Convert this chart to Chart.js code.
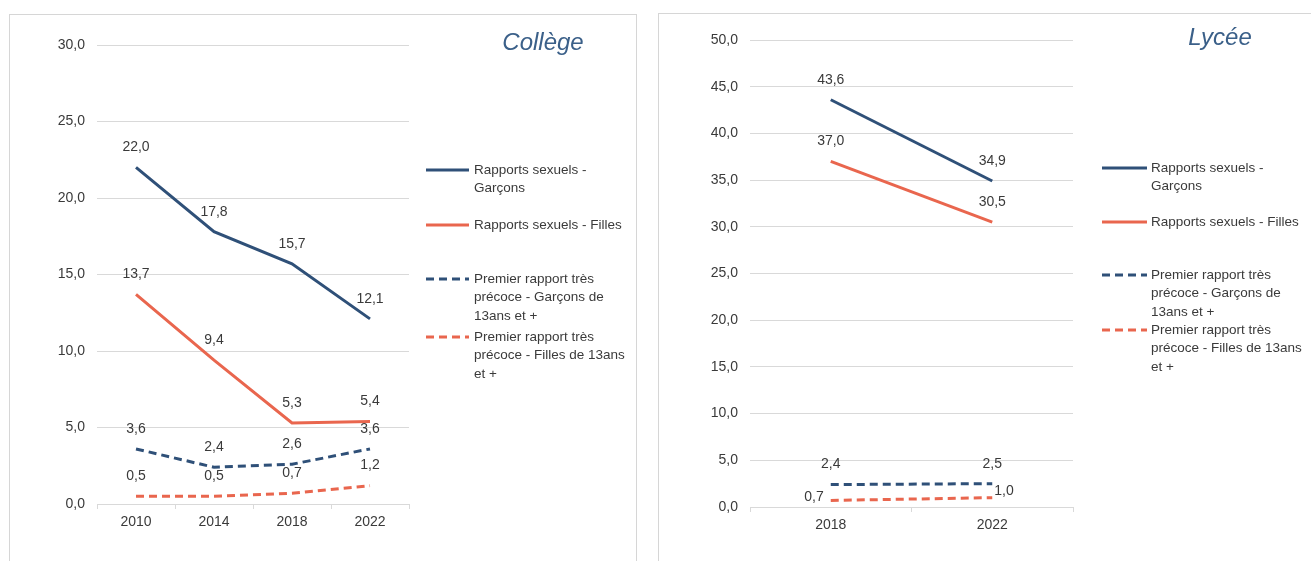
<!DOCTYPE html>
<html lang="fr">
<head>
<meta charset="utf-8">
<script src="https://cdn.jsdelivr.net/npm/chart.js@4.4.1/dist/chart.umd.min.js"></script>
<style>
    body { margin: 0; background: #ffffff; width: 1311px; height: 561px; overflow: hidden; position: relative; }
    .panneau { position: absolute; border: 1px solid #d6d6d6; background: #ffffff; }
    #panneau-college { left: 9px; top: 14px; width: 626px; height: 560px; }
    #panneau-lycee { left: 658px; top: 13px; width: 660px; height: 560px; }
    canvas { display: block; }
</style>
</head>
<body>
<div class="panneau" id="panneau-college"><canvas data-js="graphique-college" width="626" height="546"></canvas></div>
<div class="panneau" id="panneau-lycee"><canvas data-js="graphique-lycee" width="652" height="547"></canvas></div>
<script>
// Données
const anneesCollege = ['2010', '2014', '2018', '2022'];
const collegeGarcons = [22.0, 17.8, 15.7, 12.1];
const collegeFilles = [13.7, 9.4, 5.3, 5.4];
const collegePrecoceGarcons = [3.6, 2.4, 2.6, 3.6];
const collegePrecoceFilles = [0.5, 0.5, 0.7, 1.2];

const anneesLycee = ['2018', '2022'];
const lyceeGarcons = [43.6, 34.9];
const lyceeFilles = [37.0, 30.5];
const lyceePrecoceGarcons = [2.4, 2.5];
const lyceePrecoceFilles = [0.7, 1.0];

const ticksCollege = [0, 5, 10, 15, 20, 25, 30];
const ticksLycee = [0, 5, 10, 15, 20, 25, 30, 35, 40, 45, 50];

const legendes = [
    ['Rapports sexuels -', 'Garçons'],
    ['Rapports sexuels - Filles'],
    ['Premier rapport très', 'précoce - Garçons de', '13ans et +'],
    ['Premier rapport très', 'précoce - Filles de 13ans', 'et +'],
];

const BLEU = '#2f5078';
const ORANGE = '#e9664e';
const GRILLE = '#d9d9d9';
const TEXTE = '#3a3a3a';
const POLICE = "'Liberation Sans', Arial, sans-serif";

function virgule(valeur) {
    return valeur.toFixed(1).replace('.', ',');
}

// étiquettes de valeurs au-dessus des points
const pluginEtiquettes = {
    id: 'etiquettes',
    afterDatasetsDraw(chart) {
        const ctx = chart.ctx;
        ctx.save();
        ctx.font = `14px ${POLICE}`;
        ctx.fillStyle = TEXTE;
        chart.data.datasets.forEach((dataset, i) => {
            const meta = chart.getDatasetMeta(i);
            meta.data.forEach((point, j) => {
                const pos = dataset.positionsEtiquettes ? dataset.positionsEtiquettes[j] : 'haut';
                const texte = virgule(dataset.data[j]);
                ctx.textBaseline = 'middle';
                if (pos === 'gauche') {
                    ctx.textAlign = 'right';
                    ctx.fillText(texte, point.x - 7, point.y - 3);
                } else if (pos === 'droite') {
                    ctx.textAlign = 'left';
                    ctx.fillText(texte, point.x + 2, point.y - 7);
                } else {
                    ctx.textAlign = 'center';
                    ctx.fillText(texte, point.x, point.y - 20);
                }
            });
        });
        ctx.restore();
    }
};

// légende à droite, texte sur plusieurs lignes + titre en italique
const pluginLegende = {
    id: 'legendePerso',
    afterDraw(chart, args, opts) {
        const ctx = chart.ctx;
        ctx.save();
        ctx.font = `italic 24px ${POLICE}`;
        ctx.fillStyle = '#3b6089';
        ctx.textAlign = 'center';
        ctx.textBaseline = 'middle';
        ctx.fillText(opts.titre, opts.titreX, opts.titreY);

        ctx.font = `13.5px ${POLICE}`;
        ctx.fillStyle = TEXTE;
        ctx.textAlign = 'left';
        chart.data.datasets.forEach((dataset, i) => {
            const y = opts.lignesY[i];
            ctx.beginPath();
            ctx.strokeStyle = dataset.borderColor;
            ctx.lineWidth = 3;
            ctx.setLineDash(dataset.borderDash || []);
            ctx.moveTo(opts.traitX1, y);
            ctx.lineTo(opts.traitX2, y);
            ctx.stroke();
            ctx.setLineDash([]);
            legendes[i].forEach((ligne, k) => {
                ctx.fillText(ligne, opts.texteX, y + k * 18.5);
            });
        });
        ctx.restore();
    }
};

function creerSeries(g, f, pg, pf, positionsFilles) {
    return [
        { label: legendes[0].join(' '), data: g, borderColor: BLEU, borderWidth: 3 },
        { label: legendes[1].join(' '), data: f, borderColor: ORANGE, borderWidth: 3 },
        { label: legendes[2].join(' '), data: pg, borderColor: BLEU, borderWidth: 3, borderDash: [8, 5] },
        { label: legendes[3].join(' '), data: pf, borderColor: ORANGE, borderWidth: 3, borderDash: [8, 5], positionsEtiquettes: positionsFilles },
    ];
}

function creerOptions(max, ticks, largeurY, padding, legende) {
    return {
        responsive: false,
        animation: false,
        layout: { padding },
        elements: { point: { radius: 0 }, line: { tension: 0, borderCapStyle: 'butt' } },
        plugins: {
            legend: { display: false },
            tooltip: { enabled: false },
            legendePerso: legende,
        },
        scales: {
            x: {
                offset: true,
                grid: { offset: true, drawOnChartArea: false, color: GRILLE, tickLength: 5 },
                border: { display: true, color: GRILLE },
                ticks: { color: TEXTE, font: { family: POLICE, size: 14 }, padding: 5 },
                afterFit: (scale) => { scale.height = 40; },
            },
            y: {
                min: 0,
                max,
                afterBuildTicks: (scale) => { scale.ticks = ticks.map((v) => ({ value: v })); },
                grid: { color: GRILLE, drawTicks: false },
                border: { display: false },
                ticks: { color: TEXTE, font: { family: POLICE, size: 14 }, padding: 12, callback: (v) => virgule(v) },
                afterFit: (scale) => { scale.width = largeurY; },
            },
        },
    };
}

const college = document.querySelector('[data-js="graphique-college"]');
const lycee = document.querySelector('[data-js="graphique-lycee"]');

new Chart(college, {
    type: 'line',
    data: {
        labels: anneesCollege,
        datasets: creerSeries(collegeGarcons, collegeFilles, collegePrecoceGarcons, collegePrecoceFilles, null),
    },
    options: creerOptions(30, ticksCollege, 87, { top: 30, right: 227, bottom: 17, left: 0 }, {
        titre: 'Collège', titreX: 533, titreY: 28,
        traitX1: 416, traitX2: 459, texteX: 464,
        lignesY: [155, 210, 264, 322],
    }),
    plugins: [pluginEtiquettes, pluginLegende],
});

new Chart(lycee, {
    type: 'line',
    data: {
        labels: anneesLycee,
        datasets: creerSeries(lyceeGarcons, lyceeFilles, lyceePrecoceGarcons, lyceePrecoceFilles, ['gauche', 'droite']),
    },
    options: creerOptions(50, ticksLycee, 91, { top: 26, right: 238, bottom: 14, left: 0 }, {
        titre: 'Lycée', titreX: 561, titreY: 24,
        traitX1: 443, traitX2: 488, texteX: 492,
        lignesY: [154, 208, 261, 316],
    }),
    plugins: [pluginEtiquettes, pluginLegende],
});
</script>
</body>
</html>
